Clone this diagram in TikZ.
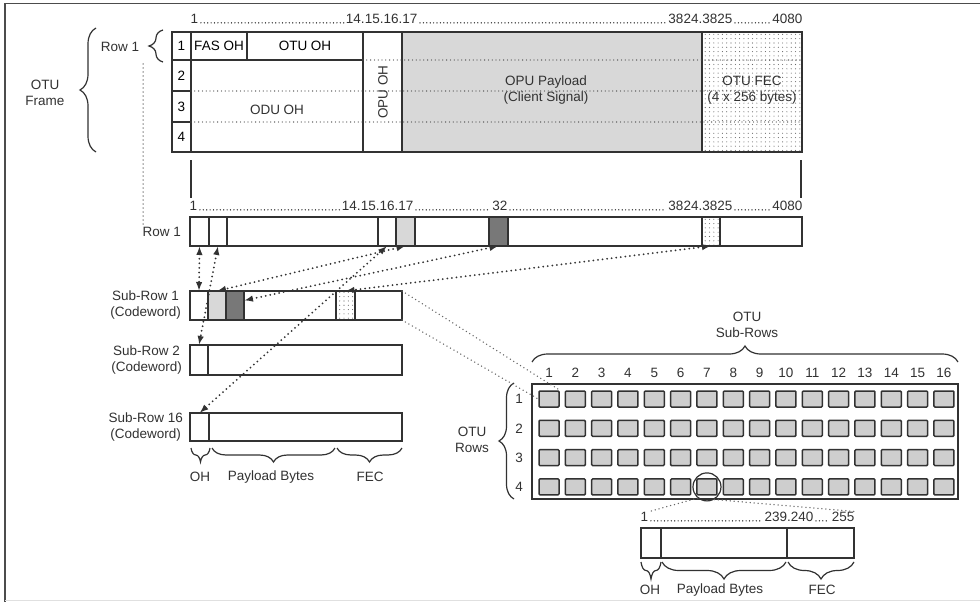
\documentclass[tikz,border=0pt]{standalone}
\usepackage{fontspec}
\setmainfont{Liberation Sans}
\usetikzlibrary{arrows.meta,decorations.pathreplacing,patterns.meta,positioning}
\definecolor{ink}{RGB}{50,50,50}
\definecolor{paygray}{RGB}{216,216,216}
\definecolor{bytegray}{RGB}{120,120,120}
\definecolor{cellgray}{RGB}{206,206,206}
\begin{document}
\begin{tikzpicture}[x=1pt,y=-1pt,>=Latex,font=\fontsize{13.5}{15.5}\selectfont,
   box/.style={draw=ink,fill=white,line width=1.2pt,inner sep=0pt,outer sep=0pt,anchor=north west},
   fecbox/.style={box,pattern={Dots[distance=4.3pt,radius=0.55pt]},pattern color=black!60},
   num/.style={inner sep=0.5pt,text=ink},
   lbl/.style={text=ink,align=center,inner sep=1pt},
   leader/.style={black!85,line width=1.4pt,line cap=round,dash pattern=on 0pt off 3.4pt,shorten <=2pt,shorten >=1.5pt,transform canvas={yshift=0.8pt}},
   rowdots/.style={black!70,line width=1.3pt,line cap=round,dash pattern=on 0pt off 3.8pt},
   link/.style={{Latex[length=9pt,width=6.5pt]}-{Latex[length=9pt,width=6.5pt]},ink,line width=2pt,line cap=round,dash pattern=on 0pt off 4.6pt},
   zoomline/.style={black!60,line width=1.5pt,line cap=round,dash pattern=on 0pt off 4pt},
   brc/.style={decorate,decoration={brace,amplitude=#1},ink,line width=1.2pt},
   brcm/.style={decorate,decoration={brace,mirror,amplitude=#1},ink,line width=1.2pt},
   gcell/.style={draw=ink,fill=cellgray,line width=1.5pt,rounded corners=1pt,minimum width=20pt,minimum height=16pt,inner sep=0pt}]
   \useasboundingbox (0,0) rectangle (980,602);
   \fill[white] (0,0) rectangle (980,602);
   %border
   \draw[black!70,line width=1.6pt] (5,602) -- (5,3.5) -- (980,3.5);
   \draw[black!12,line width=1pt] (5,600.5) -- (980,600.5);
   %otu frame
   \node[box,fill=paygray,minimum width=300pt,minimum height=120pt] (pay) at (402,32) {};
   \node[fecbox,minimum width=100pt,minimum height=120pt] (fec) at (702,32) {};
   \node[box,minimum width=39pt,minimum height=120pt] (opuoh) at (363,32) {};
   \node[box,minimum width=172pt,minimum height=92pt] (odu) at (191,60) {};
   \node[box,minimum width=56pt,minimum height=28pt] (fas) at (191,32) {FAS OH};
   \node[box,minimum width=116pt,minimum height=28pt] (otuoh) at (247,32) {OTU OH};
   \node[box,minimum width=19pt,minimum height=28pt] (r1) at (172,32) {1};
   \node[box,minimum width=19pt,minimum height=31pt] (r2) at (172,60) {2};
   \node[box,minimum width=19pt,minimum height=31pt] (r3) at (172,91) {3};
   \node[box,minimum width=19pt,minimum height=30pt] (r4) at (172,122) {4};
   \draw[rowdots] (opuoh.west |- r2.north) -- (fec.east |- r2.north);
   \draw[rowdots] (odu.west |- r3.north) -- (fec.east |- r3.north);
   \draw[rowdots] (odu.west |- r4.north) -- (fec.east |- r4.north);
   \node[lbl] (odulbl) at (277,110) {ODU OH};
   \node[lbl,rotate=90] (opulbl) at (383,92) {OPU OH};
   \node[lbl] (paylbl) at (546,90) {OPU Payload\\(Client Signal)};
   \node[lbl] (feclbl) at (752,90) {OTU FEC\\(4 x 256 bytes)};
   %frame columns
   \node[num,anchor=west] (f1) at (190,19) {1};
   \node[num,anchor=east] (f17) at (418,19) {14.15.16.17};
   \node[num,anchor=east] (f3825) at (733,19) {3824.3825};
   \node[num,anchor=east] (f4080) at (803,19) {4080};
   \draw[leader] (f1.base east) -- (f17.base west);
   \draw[leader] (f17.base east) -- (f3825.base west);
   \draw[leader] (f3825.base east) -- (f4080.base west);
   %braces left
   \draw[brc=16pt] (96,152) -- (96,28);
   \node[lbl] (framelbl) at (45,93) {OTU\\Frame};
   \draw[brc=14pt] (163,62) -- (163,30);
   \node[lbl] (row1top) at (120,47) {Row 1};
   %drop lines
   \draw[ink,line width=1.2pt] (191,160) -- (191,198);
   \draw[ink,line width=1.2pt] (801,160) -- (801,198);
   %row 1
   \node[box,minimum width=612pt,minimum height=29pt] (rowbar) at (190,217) {};
   \node[box,minimum width=19pt,minimum height=29pt] (b1) at (190,217) {};
   \node[box,minimum width=18pt,minimum height=29pt] (b2) at (209,217) {};
   \node[box,minimum width=18pt,minimum height=29pt] (b16) at (378,217) {};
   \node[box,fill=paygray,minimum width=19pt,minimum height=29pt] (b17) at (396,217) {};
   \node[box,fill=bytegray,minimum width=19pt,minimum height=29pt] (b32) at (489,217) {};
   \node[fecbox,minimum width=18pt,minimum height=29pt] (b3825) at (702,217) {};
   \node[lbl,anchor=east] (rowlbl) at (182,232) {Row 1};
   \coordinate (rtip) at (143,64);
   \draw[zoomline] (rtip) -- (rtip |- rowlbl.north);
   \node[num,anchor=west] (n1) at (189,206) {1};
   \node[num,anchor=east] (n17) at (414,206) {14.15.16.17};
   \node[num,anchor=east] (n32) at (508,206) {32};
   \node[num,anchor=east] (n3825) at (733,206) {3824.3825};
   \node[num,anchor=east] (n4080) at (803,206) {4080};
   \draw[leader] (n1.base east) -- (n17.base west);
   \draw[leader] (n17.base east) -- (n32.base west);
   \draw[leader] (n32.base east) -- (n3825.base west);
   \draw[leader] (n3825.base east) -- (n4080.base west);
   %sub-rows
   \node[box,minimum width=212pt,minimum height=29pt] (s1) at (190,291) {};
   \node[box,minimum width=18pt,minimum height=29pt] (s1a) at (190,291) {};
   \node[box,fill=paygray,minimum width=18pt,minimum height=29pt] (s1b) at (208,291) {};
   \node[box,fill=bytegray,minimum width=18pt,minimum height=29pt] (s1c) at (226,291) {};
   \node[fecbox,minimum width=19pt,minimum height=29pt] (s1f) at (336,291) {};
   \node[box,minimum width=212pt,minimum height=30pt] (s2) at (190,345) {};
   \node[box,minimum width=18pt,minimum height=30pt] (s2a) at (190,345) {};
   \node[box,minimum width=212pt,minimum height=28pt] (s16) at (190,413) {};
   \node[box,minimum width=19pt,minimum height=28pt] (s16a) at (190,413) {};
   \node[lbl,anchor=east] (s1lbl) at (182,305) {Sub-Row 1\\(Codeword)};
   \node[lbl,anchor=east] (s2lbl) at (183,360) {Sub-Row 2\\(Codeword)};
   \node[lbl,anchor=east] (s16lbl) at (184,427) {Sub-Row 16\\(Codeword)};
   \draw[brcm=14pt] (191,448) -- (210,448);
   \draw[brcm=14pt] (212,448) -- (335,448);
   \draw[brcm=14pt] (337,448) -- (402,448);
   \node[lbl] (ohlbl) at (200,477) {OH};
   \node[lbl] (pldlbl) at (271,477) {Payload Bytes};
   \node[lbl] (fclbl) at (370,477) {FEC};
   %byte mapping
   \draw[link] (b1.south) -- (s1a.north);
   \draw[link] (b2.south) -- (s2a.north);
   \draw[link] (b16.south) -- (s16a.north);
   \draw[link] (b17.south) -- (s1b.north);
   \draw[link] (b32.south) -- ([yshift=5pt]s1c.east);
   \draw[link] (b3825.south) -- (s1f.north);
   %otu sub-row grid
   \node[box,minimum width=426pt,minimum height=115pt] (otugrid) at (532,384) {};
   \foreach \c in {1,...,16}{
     \node[num] (sc-\c) at (549+26.33*\c-26.33,373) {\c};
     \foreach \r in {1,...,4}
       \node[gcell] (g-\r-\c) at (549+26.33*\c-26.33,399+29.3*\r-29.3) {};
   }
   \foreach \r in {1,...,4}
     \node[num] (sr-\r) at (519,399+29.3*\r-29.3) {\r};
   \draw[brc=16pt] (532,362) -- (958,362);
   \node[lbl] (sublbl) at (747,325) {OTU\\Sub-Rows};
   \draw[brc=15pt] (514,499) -- (514,383);
   \node[lbl] (rowslbl) at (472,440) {OTU\\Rows};
   \draw[zoomline] (s1.north east) -- (g-1-1.north east);
   \draw[zoomline] (s1.south east) -- (g-1-1.west);
   %codeword
   \node[draw=ink,circle,line width=1.2pt,minimum size=28pt,inner sep=0pt] (zc) at (g-4-7) {};
   \node[box,minimum width=213pt,minimum height=30pt] (cw) at (641,528) {};
   \node[box,minimum width=20pt,minimum height=30pt] (cwoh) at (641,528) {};
   \node[box,minimum width=67pt,minimum height=30pt] (cwfec) at (787,528) {};
   \node[num,anchor=west] (c1) at (640,517) {1};
   \node[num,anchor=east] (c240) at (814,517) {239.240};
   \node[num,anchor=east] (c255) at (855,517) {255};
   \draw[leader] (c1.base east) -- (c240.base west);
   \draw[leader] (c240.base east) -- (c255.base west);
   \draw[zoomline] (zc.230) -- (c1.north east);
   \draw[zoomline] (zc.300) -- (c255.north east);
   \draw[brcm=17pt] (641,562) -- (661,562);
   \draw[brcm=17pt] (662,562) -- (786,562);
   \draw[brcm=17pt] (788,562) -- (854,562);
   \node[lbl] (cwohlbl) at (650,590) {OH};
   \node[lbl] (cwpllbl) at (720,590) {Payload Bytes};
   \node[lbl] (cwfclbl) at (822,590) {FEC};
\end{tikzpicture}
\end{document}
